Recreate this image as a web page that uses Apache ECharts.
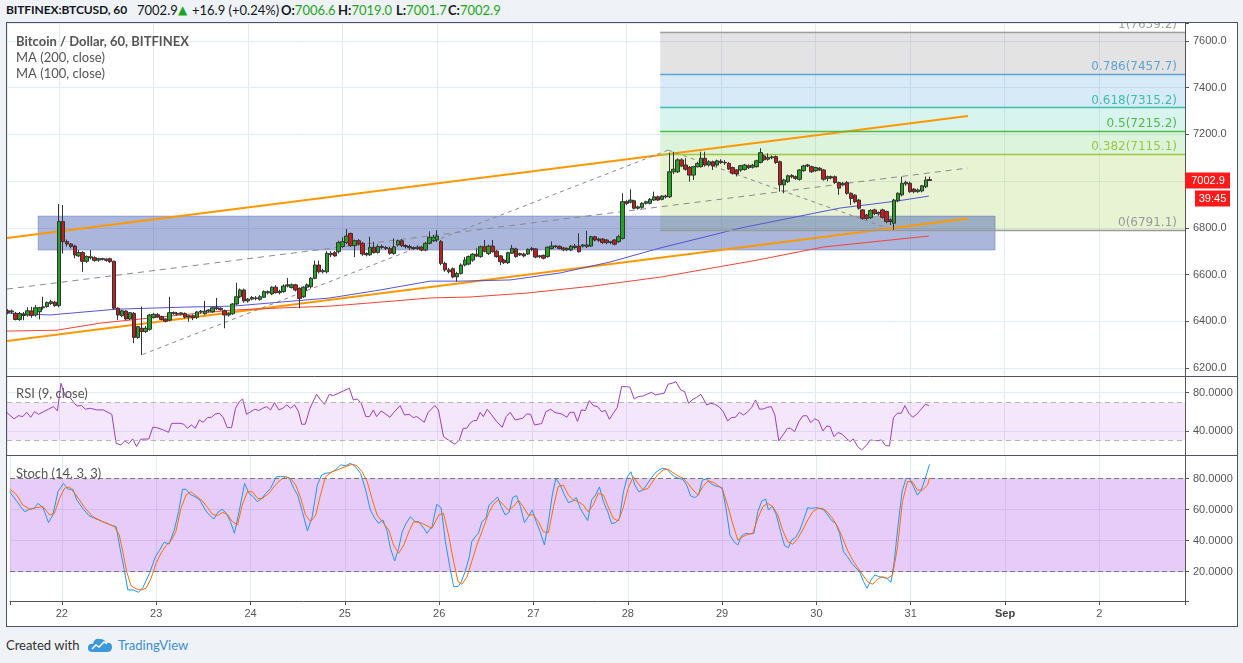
<!DOCTYPE html>
<html><head><meta charset="utf-8">
<script src="https://cdn.jsdelivr.net/npm/echarts@6/dist/echarts.min.js"></script>
<style>
html,body{margin:0;padding:0;background:#eff2f6;width:1243px;height:663px;overflow:hidden;font-family:Lato,'Noto Sans',sans-serif;}
#chart{position:absolute;left:6px;top:22px;width:1230px;height:603px;border:1px solid #50535e;background:#fff;}
.h{position:absolute;top:2px;font-size:13px;line-height:16px;color:#131722;white-space:nowrap;}
.b{font-weight:bold;}
.g{color:#1fa51f;}
.f{position:absolute;top:637px;font-size:13px;line-height:16px;white-space:nowrap;}
</style></head>
<body>
<div class="h b" style="left:6px;font-size:12px;letter-spacing:-0.1px">BITFINEX:BTCUSD, 60</div>
<div class="h" style="left:137px">7002.9</div>
<div class="h g" style="left:178px;font-family:'DejaVu Sans';font-size:12px">▲</div>
<div class="h" style="left:192px">+16.9 (+0.24%)</div>
<div class="h" style="left:281px"><span class="b">O:</span><span class="g">7006.6</span></div>
<div class="h" style="left:338px"><span class="b">H:</span><span class="g">7019.0</span></div>
<div class="h" style="left:396px"><span class="b">L:</span><span class="g">7001.7</span></div>
<div class="h" style="left:448px"><span class="b">C:</span><span class="g">7002.9</span></div>
<div id="chart"></div>
<div class="f" style="left:6px;color:#333">Created with</div>
<svg style="position:absolute;left:87px;top:637px" width="26" height="16" viewBox="0 0 26 16"><path d="M6 15 Q0 15 1 10 Q2 6 6 7 Q7 1 13 2 Q18 2 19 6 Q25 5 25 10 Q25 15 20 15 Z" fill="#3b98d9"/><polyline points="5,12 9,8 12,10 17,5 20,7" fill="none" stroke="#fff" stroke-width="1.5"/></svg>
<div class="f" style="left:118px;color:#3b8fd6">TradingView</div>
<script>
// ---------------- DATA ----------------
const firstHour = -13; // hours relative to Aug 22 00:00
// [open, close, low, high] hourly candles
const candles = [
[6445,6438,6430,6452],[6440,6444,6432,6450],[6434,6408,6404,6440],[6408,6432,6402,6440],[6430,6425,6405,6440],
[6427,6445,6420,6460],[6444,6425,6415,6462],[6427,6458,6420,6470],[6441,6458,6408,6462],[6458,6462,6450,6505],
[6463,6480,6458,6485],[6476,6484,6470,6492],[6482,6467,6462,6488],
[6467,6827,6460,6902],[6827,6741,6690,6898],[6741,6731,6720,6750],[6731,6720,6712,6735],[6722,6684,6670,6728],
[6680,6694,6676,6705],[6694,6657,6612,6700],[6657,6677,6650,6682],[6676,6672,6665,6705],[6672,6661,6655,6678],
[6662,6668,6655,6672],[6668,6666,6660,6672],[6666,6661,6655,6670],[6668,6655,6650,6672],[6657,6456,6450,6660],
[6456,6427,6406,6460],[6424,6445,6418,6450],[6444,6410,6405,6448],[6410,6437,6405,6440],[6434,6331,6306,6440],
[6331,6377,6325,6380],[6370,6356,6256,6463],[6356,6370,6350,6380],[6366,6427,6360,6432],[6417,6430,6412,6435],
[6428,6420,6415,6435],[6420,6408,6404,6424],[6410,6400,6395,6412],[6405,6437,6400,6505],[6437,6434,6428,6442],
[6434,6430,6425,6440],[6430,6436,6426,6440],[6433,6418,6412,6438],[6418,6424,6398,6428],[6424,6415,6405,6430],
[6417,6440,6410,6444],[6440,6443,6432,6448],[6432,6444,6428,6487],[6444,6448,6438,6452],[6441,6458,6436,6462],
[6458,6454,6448,6500],[6456,6450,6445,6460],[6445,6427,6370,6450],[6427,6432,6420,6438],[6432,6474,6428,6478],
[6474,6505,6470,6565],[6505,6534,6500,6540],[6534,6487,6480,6540],[6487,6495,6480,6500],[6495,6502,6490,6508],
[6500,6498,6490,6508],[6494,6505,6488,6512],[6503,6527,6500,6532],[6527,6522,6515,6532],[6517,6546,6512,6550],
[6546,6523,6518,6555],[6523,6528,6515,6535],[6527,6551,6522,6558],[6551,6556,6545,6585],[6545,6556,6540,6562],
[6556,6534,6528,6560],[6541,6498,6456,6545],[6505,6546,6500,6550],[6546,6556,6530,6562],[6548,6584,6540,6590],
[6584,6641,6580,6660],[6641,6612,6605,6660],[6612,6617,6605,6625],[6612,6691,6605,6700],[6691,6685,6675,6700],
[6694,6680,6676,6700],[6698,6737,6690,6745],[6720,6741,6715,6760],[6737,6765,6730,6795],[6776,6724,6718,6780],
[6724,6745,6675,6750],[6745,6731,6725,6752],[6734,6688,6680,6740],[6690,6685,6678,6695],[6685,6717,6680,6762],
[6717,6694,6690,6740],[6695,6720,6690,6730],[6720,6716,6710,6728],[6716,6712,6705,6722],[6712,6691,6685,6720],
[6690,6719,6685,6755],[6727,6745,6720,6750],[6745,6724,6718,6752],[6724,6720,6712,6730],[6720,6715,6705,6728],
[6715,6712,6705,6720],[6712,6717,6705,6725],[6717,6705,6700,6722],[6705,6734,6700,6740],[6734,6760,6730,6785],
[6745,6760,6740,6770],[6748,6765,6740,6790],[6741,6648,6640,6748],[6648,6620,6612,6655],[6620,6612,6605,6628],
[6625,6590,6584,6630],[6590,6605,6570,6612],[6605,6641,6600,6648],[6641,6662,6635,6675],[6645,6677,6640,6682],
[6662,6687,6655,6692],[6687,6680,6675,6712],[6677,6719,6672,6724],[6719,6700,6695,6748],[6690,6722,6684,6728],
[6722,6698,6694,6748],[6700,6677,6672,6705],[6680,6655,6641,6684],[6662,6651,6645,6668],[6651,6694,6645,6698],
[6691,6712,6688,6727],[6710,6677,6672,6715],[6684,6690,6680,6694],[6688,6680,6674,6694],[6688,6708,6684,6712],
[6708,6712,6700,6718],[6710,6675,6670,6714],[6677,6680,6670,6684],[6682,6670,6665,6686],[6677,6717,6672,6720],
[6712,6722,6708,6742],[6720,6722,6714,6726],[6721,6712,6708,6725],[6714,6706,6700,6718],[6706,6712,6700,6716],
[6705,6722,6700,6726],[6722,6716,6710,6731],[6722,6698,6694,6777],[6722,6727,6716,6730],[6720,6727,6714,6788],
[6722,6762,6718,6766],[6762,6748,6742,6766],[6752,6747,6740,6758],[6752,6737,6732,6756],[6748,6737,6730,6752],
[6738,6740,6730,6744],[6748,6730,6725,6752],[6741,6762,6736,6770],[6755,6912,6750,6948],[6912,6905,6898,6918],
[6910,6919,6905,6965],[6916,6884,6880,6920],[6884,6890,6878,6895],[6888,6905,6882,6910],[6905,6912,6900,6916],
[6905,6922,6900,6928],[6919,6933,6915,6955],[6933,6919,6915,6938],[6922,6936,6918,6940],[6936,6933,6926,6942],
[6933,7040,6928,7122],[7040,7051,7030,7126],[7040,7091,7035,7098],[7091,7065,7060,7098],[7069,7051,7045,7098],
[7059,7026,6998,7065],[7026,7062,7005,7066],[7062,7076,7058,7083],[7062,7098,7058,7126],[7098,7069,7062,7126],
[7069,7083,7062,7090],[7083,7065,7048,7088],[7069,7087,7062,7092],[7085,7080,7074,7094],[7080,7078,7070,7090],
[7076,7052,7048,7082],[7058,7034,7028,7062],[7048,7031,7020,7052],[7048,7066,7040,7070],[7050,7069,7045,7074],
[7066,7058,7052,7072],[7060,7068,7054,7074],[7062,7087,7058,7092],[7080,7122,7076,7141],[7108,7092,7086,7114],
[7094,7102,7088,7119],[7100,7104,7094,7110],[7105,7080,7074,7110],[7083,6984,6955,7088],[6984,7005,6948,7010],
[6998,7023,6992,7028],[7024,7019,7012,7030],[7019,7012,7005,7024],[7008,7048,7002,7052],[7045,7065,7040,7070],
[7065,7069,7060,7074],[7062,7040,7036,7066],[7045,7058,7040,7062],[7055,7048,7044,7060],[7048,7008,7002,7052],
[7012,7019,7000,7024],[7019,7014,7008,7024],[7019,6994,6988,7024],[6994,6970,6941,6998],[6984,6991,6978,6996],
[6994,6948,6942,7000],[6948,6926,6898,6952],[6940,6912,6905,6945],[6919,6884,6878,6924],[6877,6841,6834,6880],
[6855,6841,6834,6860],[6844,6874,6838,6880],[6877,6862,6855,6882],[6860,6866,6852,6870],[6877,6845,6840,6882],
[6870,6827,6820,6874],[6834,6827,6812,6840],[6820,6919,6791.1,6924],[6916,6948,6910,6952],[6941,6991,6935,7019],
[6988,6995,6980,7002],[6991,6955,6950,6998],[6966,6955,6948,6970],[6955,6962,6950,6968],[6958,6980,6952,6984],
[6976,7005,6970,7020],[7006.6,7002.9,7001.7,7019.0]
];
// moving averages: [hour, price]
const ma100 = [[-13.2,6435],[-2.3,6427],[0.3,6431],[14.7,6452],[32.5,6461],[44.2,6465],[56.1,6482],[68.8,6500],[81.5,6534],[94.2,6572],[101.8,6572],[114.5,6577],[127.2,6607],[139.9,6654],[152.6,6714],[162.7,6756],[172.9,6799],[185.6,6842],[198.3,6885],[206.6,6902],[212.7,6915],[220.8,6936]];
const ma200 = [[-13.2,6358],[-0.5,6362],[10.4,6392],[23.1,6414],[35.8,6435],[44.2,6448],[56.1,6457],[68.8,6465],[81.5,6482],[94.2,6500],[104.3,6504],[118.8,6521],[135.6,6551],[152.6,6589],[162.7,6619],[177.2,6662],[194,6718],[211,6748],[220.8,6765]];
// RSI (9): [hour, value]
const rsi = [[-13.3,59.5],[-11.4,52.6],[-10.3,56],[-9.2,55],[-8.2,59.5],[-7.2,54.3],[-6.2,60.2],[-5.2,57.4],[-4,60],[-2.7,62.7],[-1.4,65.4],[-0.4,60.9],[0.5,89.8],[1.6,75.9],[2.8,74.8],[4.5,66.1],[5.7,66.5],[6.7,62.7],[7.9,63.7],[9.6,62],[11.2,62],[13.4,57.4],[14.5,27.2],[15.7,25.4],[16.7,29.6],[17.7,26.8],[18.7,31.7],[19.7,23.7],[20.7,31.3],[22.8,31.7],[23.8,43.9],[24.8,43.5],[26.5,41.1],[27.8,38.6],[28.6,48],[30.7,48],[31.7,47],[32.6,42.8],[33.6,46.3],[34.6,42.8],[35.6,51.5],[36.6,49.1],[37.7,54],[38.7,54.3],[39.7,57.8],[40.7,58.5],[41.7,54],[42.7,43.5],[43.8,43.5],[44.8,63.7],[45.8,70.7],[46.6,73.4],[47.6,57.4],[48.7,60.2],[49.7,62.7],[50.7,61.3],[51.7,63.7],[52.7,65.4],[53.7,62],[54.7,69.6],[55.8,62],[56.8,63.7],[57.8,67.2],[58.8,63.7],[59.8,67.2],[60.8,60.2],[61.6,47],[62.5,47],[63.7,63.7],[65.4,78.3],[66.4,72.4],[67.4,67.9],[68.6,78.3],[69.6,76.9],[70.9,79.4],[72.2,81.8],[73.7,84.6],[74.7,72.4],[75.7,73.4],[76.7,68.9],[77.9,55],[78.8,55],[79.8,62],[80.6,55],[81.8,60.9],[83,57.4],[84,54.3],[85,59.5],[86.6,66.5],[87.7,56.7],[88.9,57.4],[89.9,54],[90.8,55],[92.7,49.1],[93.7,59.5],[95.4,66.5],[96.3,62],[97.6,34.1],[98.8,30.6],[100.5,26.1],[101.6,30.6],[102.6,42.8],[103.5,42.8],
[104.3,48],[105.2,50.8],[106,50.8],[106.9,59.5],[107.7,55],[108.7,62.7],[109.7,57.4],[111.1,49.8],[112.5,43.9],[113.5,55],[114.5,59.5],[115.8,51.5],[117.7,53.3],[118.7,57.8],[119.7,57.4],[120.7,46.3],[122.5,47.7],[123.6,60.2],[124.8,62.7],[125.9,59.2],[127.6,57.8],[128.9,54.3],[129.7,59.5],[130.7,59.5],[131.6,49.8],[132.6,62],[133.6,61.3],[134.6,71.7],[135.6,66.5],[136.7,65.4],[137.7,60.2],[138.7,61.3],[139.7,52.2],[140.7,58.5],[141.7,64.7],[142.8,86.3],[144.1,86.3],[144.9,85.6],[146,73.4],[147,75.9],[148.3,76.6],[149.2,78.3],[150.4,80.4],[151.4,77.6],[152.6,78.7],[153.6,79.4],[154.6,88.8],[155.6,89.8],[156.6,91.5],[157.8,82.8],[158.8,81.1],[159.8,68.9],[160.9,73.1],[161.9,75.2],[162.9,78.3],[164.4,67.2],[165.4,68.9],[166.4,67.9],[167.5,65.4],[168.6,60.2],[169.7,50.5],[170.7,54],[171.7,54.3],[172.7,59.5],[173.7,56.7],[174.7,59.5],[175.8,64.4],[176.8,72.4],[177.8,62.7],[178.8,63],[179.8,64.7],[180.8,65.4],[181.7,56.7],[182.7,29.6],[183.9,36.6],[184.9,42.8],[185.7,42.8],[186.7,39.3],[187.8,49.8],[188.8,55.7],[189.8,56],[190.8,48.7],[191.8,52.6],[192.8,50.8],[193.9,40],[194.9,45.2],[195.7,44.6],[196.7,34.1],[197.7,38.3],[198.8,36.6],[199.8,32.4],[200.8,28.9],[201.6,31.7],[202.7,23.7],[203.7,20.2],[204.9,24.7],[205.9,30.6],[206.9,29.9],[207.9,29.9],[208.8,30.6],[209.8,24.7],[210.8,24.4],[211.8,54],[212.8,58.5],[213.8,58.5],[214.7,66.5],[215.7,58.5],[216.7,54.3],[217.7,57.4],[218.7,62],[219.9,67.9],[220.8,66.5]];
// Stochastic %K and %D: [hour, value]
const stochK = [[-13.3,71.6],[-11.4,65.2],[-9.5,58.7],[-8.2,60.3],[-7,60.9],[-6.1,64.1],[-4.8,61.3],[-3.4,51.7],[-2.3,56.6],[-1,71.6],[0.4,77],[1.6,73.2],[2.8,73.2],[3.8,66.3],[5.3,60.9],[6.9,56.2],[8.3,54.5],[10.4,52.3],[12.9,49.7],[13.8,49.1],[14.8,35.1],[15.8,22.2],[16.8,8.2],[18.2,8.2],[19.5,6.7],[20.6,9.7],[22.3,18.9],[23.8,29.7],[24.8,33.6],[26,39],[27.3,37.9],[28.6,46.9],[29.7,58.7],[30.7,73.2],[31.6,73.2],[32.6,69.9],[33.9,68.4],[35.1,66.3],[36.5,59.8],[37.5,56.6],[38.7,54],[39.7,58.3],[40.7,60.3],[41.7,58.3],[42.9,52.3],[43.9,44.8],[45.1,58.7],[46.5,77],[47.6,70.6],[48.7,68.4],[49.7,65.2],[50.9,67.3],[51.9,70.6],[53.1,73.8],[54.6,81.3],[55.7,81.3],[56.9,81.3],[57.9,80.2],[59,73.8],[60,69.5],[61.2,58.7],[62.5,46.3],[63.7,55.5],[65,76],[66.1,82.4],[67.1,83.5],[68.4,83.9],[69.6,85.6],[70.9,88.9],[72.2,88.4],[73.4,89.9],[74.7,87.8],[76,83.5],[77.3,72.7],[78.5,59.8],[79.6,54.5],[80.6,51.2],[81.7,53.4],[82.8,45.8],[83.6,35.1],[84.7,26.9],[85.7,35.1],[86.6,45.8],[87.6,51.2],[88.7,55.5],[89.9,52.3],[90.8,52.3],[92.1,48],[92.9,44.8],[94.2,49.1],[95.4,63.5],[96.5,61.3],[97.6,39.4],[98.7,23.3],[99.7,10.4],[100.8,10.4],[101.6,13.2],[102.6,20],[103.7,29.7],
[104.3,39.4],[105.2,42.6],[106,44.8],[106.9,52.3],[107.9,54.5],[108.7,63],[109.8,65.6],[110.9,68.2],[111.8,62],[112.8,56.6],[113.8,58.3],[114.7,67.8],[115.7,69.1],[116.7,62],[117.7,51.7],[118.7,55.5],[119.7,59.8],[120.7,52.3],[121.7,45.8],[122.8,37.2],[123.8,52.3],[124.8,69.5],[125.7,80.2],[126.8,75.9],[127.9,69.5],[128.9,64.6],[129.9,65.6],[130.9,67.8],[131.9,60.9],[132.9,56.6],[133.8,53],[134.8,66.3],[135.8,69.5],[136.8,74.7],[137.8,65.2],[138.9,58.7],[139.9,51],[140.9,51.7],[141.9,54.5],[142.9,71.6],[143.9,81.3],[144.8,84.5],[145.8,75.9],[146.8,71.6],[147.8,72.7],[148.8,75.9],[149.9,80.2],[150.9,83.5],[151.9,85.6],[152.9,86.7],[153.9,86.3],[154.9,83.5],[155.9,81.3],[157,80.2],[158,79.6],[159,75.9],[160,68.9],[161,67.8],[162,69.5],[163,79.2],[164.1,79.8],[165.1,77],[166.1,75.5],[167.1,74.9],[168,74.2],[169,60.9],[170,43.7],[171,39.4],[172,37.2],[173,43.2],[174.1,44.8],[175.1,44.3],[176.1,44.8],[177.1,58.7],[178.1,65.6],[179.1,66.9],[179.8,59.8],[180.8,62.4],[181.8,56.6],[182.9,45.8],[183.9,36.8],[184.9,35.5],[185.7,40.5],[186.7,42],[187.8,46.9],[188.8,54],[189.8,61.3],[190.8,60.9],[191.8,61.3],[192.8,60.9],[193.9,59.8],[194.9,56.6],[195.9,53],[196.9,51.2],[197.9,44.8],[198.9,32.9],[199.9,29.7],[201,25.4],[202,22.6],[203,20],[204,13.6],[204.9,9.3],[205.9,14.7],[206.9,17.9],[207.9,16.8],[208.9,16.4],[209.9,15.7],[211,13.2],[211.8,26.5],[212.8,50.2],[213.8,71.6],[214.8,80.2],[215.7,80.2],[216.7,74.9],[217.7,69.5],[218.7,72.7],[219.7,80.2],[220.8,89.3]];
const stochD = [[-13.3,73.2],[-11.6,69.9],[-9.9,63],[-8.2,60.5],[-6.5,61.3],[-4.8,62],[-3.1,56.6],[-1.9,57.7],[-0.6,67.3],[0.7,73.8],[1.9,74.7],[3.6,69.5],[5.8,61.3],[7.9,55.5],[10.4,52.3],[13.4,49.1],[14.6,43.7],[15.5,32.9],[16.5,20],[17.6,11],[18.9,8.9],[20.1,8.2],[21.4,9.3],[22.7,15.7],[23.9,25],[25.2,31.9],[26.5,36.8],[27.8,40],[29,45.8],[30.3,60.9],[31.6,69.5],[32.8,71.6],[34.1,69],[35.8,65.6],[37.1,61.3],[38.3,57],[39.6,56.2],[40.9,58.3],[42.1,57],[43.4,52.3],[44.7,50.2],[45.9,63],[47.2,71.6],[48.5,71.6],[49.8,67.3],[51,67.3],[52.7,70.6],[54,74.9],[55.3,78.5],[56.9,81.3],[58.2,80.2],[59.5,75.9],[60.8,67.3],[62,56.6],[63.3,52.3],[64.6,56.6],[65.8,69.5],[67.1,81.3],[68.8,84.5],[70.5,86.1],[72.2,87.8],[73.9,89.3],[75.1,88.4],[76.4,84.5],[77.7,78.1],[78.9,67.3],[80.2,56.6],[81.5,52.3],[83.2,46.9],[84.4,37.2],[85.7,31.9],[87,37.2],[88.3,45.8],[89.5,52.3],[91.2,51.7],[92.5,50.2],[94.2,48],[95.9,56.6],[97.1,57.7],[98.4,43.7],[99.7,26.5],[100.8,13.6],[101.8,11.9],[103.1,16.8],
[104.3,26.5],[105.6,37.2],[106.9,45.8],[108.6,57.7],[109.8,63.5],[111.1,66.3],[112.4,63],[113.6,59.8],[114.9,62],[116.2,66.1],[117.4,62],[118.7,56.6],[120,56.6],[121.3,52.3],[122.5,45.8],[123.8,45.2],[125.1,62],[126.3,74.9],[127.6,75.9],[128.9,69.5],[130.1,66.3],[131.4,65.2],[132.7,63],[133.9,58.7],[135.2,63],[136.5,70.6],[137.8,69.5],[139,62],[140.3,54.5],[141.6,52.7],[142.8,60.9],[144.1,73.8],[145.4,81.3],[146.6,77],[147.9,72.7],[149.2,73.8],[150.4,78.5],[151.7,82.8],[153,85.6],[154.3,86.1],[155.5,83.9],[156.8,81.8],[158.1,80.2],[159.3,77],[160.6,72.7],[161.9,69.5],[163.1,74.9],[164.4,78.5],[165.7,77.7],[166.9,75.9],[168.2,72.7],[169.5,62],[170.8,50.2],[172,40.5],[173.3,42.6],[174.6,44.1],[175.8,44.8],[177.1,54.5],[178.4,62],[179.6,64.1],[180.9,62],[182.2,56.6],[183.4,46.9],[184.7,39.4],[186,37.7],[187.3,41.5],[188.5,46.9],[189.8,53.4],[191.1,58.7],[192.3,60.9],[193.6,60.9],[194.9,58.3],[196.1,54.5],[197.4,49.1],[198.7,41.5],[199.9,34],[201.2,27.6],[202.5,22.6],[203.8,17.9],[205,13.6],[206.3,11.9],[207.6,15.3],[208.8,16.8],[210.1,15.7],[211.4,17.9],[212.6,35.1],[213.9,65.2],[215.2,78.1],[216.4,78.1],[217.7,72.7],[219,72.7],[220.3,75.9],[220.8,80.7]];
// drawings (hour, price)
const channelUpper = [[-13.2,6756.4],[230.7,7278.9]];
const channelLower = [[-13.2,6315.4],[230.7,6839.9]];
const channelMid   = [[-13.2,6538],[230.7,7056]];
const swingUp   = [[21.2,6258],[154.6,7133]];
const swingDown = [[154.6,7133],[210.2,6799]];
const zoneHours = [-5.3, 237.6];
const zonePrices = [6705, 6850.6];
const fibStartHour = 152.6;
const fibRatios = [1, 0.786, 0.618, 0.5, 0.382, 0];
const fibPrices = [7639.2, 7457.7, 7315.2, 7215.2, 7115.1, 6791.1];
const rsiBands = [30, 70];
const stochBands = [20, 80];
const countdown = '39:45';

// ---------------- STYLE / LAYOUT ----------------
const X_MIN = -13.2, X_MAX = 285.8;
const fibLine = ['#9e9e9e','#5fa3d6','#3cbfa6','#52b948','#9cc63f','#9a9a9a'];
const fibFill = ['rgba(140,140,140,0.24)','rgba(70,160,220,0.22)','rgba(60,200,170,0.2)','rgba(80,200,80,0.2)','rgba(150,200,60,0.22)'];
const gridColor = '#e4ecf2';
const axisColor = '#555';
const axFont = 'Liberation Sans';

function fmtDay(v){
  const d = v/24;
  if (Math.abs(d - Math.round(d)) > 1e-6) return '';
  const day = 22 + Math.round(d);
  if (day <= 31) return String(day);
  return day - 31 === 1 ? '{b|Sep}' : String(day - 31);
}
function xAx(gi, show){
  return {type:'value', gridIndex:gi, min:X_MIN, max:X_MAX, minInterval:24, maxInterval:24,
    axisLine:{show:show, onZero:false, lineStyle:{color:axisColor}},
    axisTick:{show:show, length:4, lineStyle:{color:axisColor}},
    axisLabel:{show:show, formatter:fmtDay, color:'#555', fontSize:11, fontFamily:axFont, margin:7,
      rich:{b:{fontWeight:'bold', color:'#444', fontSize:11, fontFamily:axFont}}},
    splitLine:{show:true, lineStyle:{color:gridColor}}};
}
function yAx(gi, min, max, step, dec){
  return {type:'value', gridIndex:gi, position:'right', min:min, max:max, minInterval:step, maxInterval:step,
    axisLine:{show:true, onZero:false, lineStyle:{color:axisColor}},
    axisTick:{show:true, length:4, lineStyle:{color:axisColor}},
    axisLabel:{color:'#555', fontSize:11, fontFamily:axFont, margin:8,
      formatter:v => (Math.abs(v/step - Math.round(v/step)) < 1e-6) ? v.toFixed(dec) : ''},
    splitLine:{show:true, lineStyle:{color:gridColor}}};
}

const candleData = candles.map((c,i) => [firstHour + i, c[0], c[1], c[2], c[3]]);

const fibAreas = [];
for (let i = 0; i < fibPrices.length - 1; i++) {
  fibAreas.push([{xAxis:fibStartHour, yAxis:fibPrices[i], itemStyle:{color:fibFill[i]}}, {xAxis:X_MAX, yAxis:fibPrices[i+1]}]);
}
const fibLines = fibPrices.map((p,i) => [
  {xAxis:fibStartHour, yAxis:p, lineStyle:{color:fibLine[i], width:1.3, type:'solid'},
   label:{formatter: fibRatios[i] + '(' + p.toFixed(1) + ')', color:fibLine[i]}},
  {xAxis:X_MAX, yAxis:p}]);

const chart = echarts.init(document.getElementById('chart'));
const legendTexts = [
  {id:'t1', type:'text', left:9, top:12, z:50, style:{text:'Bitcoin / Dollar, 60, BITFINEX', fontFamily:'Lato', fontSize:13, fontWeight:'bold', fill:'#555'}},
  {id:'t2', type:'text', left:9, top:28, z:50, style:{text:'MA (200, close)', fontFamily:'Lato', fontSize:13, fill:'#555'}},
  {id:'t3', type:'text', left:9, top:44, z:50, style:{text:'MA (100, close)', fontFamily:'Lato', fontSize:13, fill:'#555'}},
  {id:'t4', type:'text', left:9, top:364, z:50, style:{text:'RSI (9, close)', fontFamily:'Lato', fontSize:13, fill:'#555'}},
  {id:'t5', type:'text', left:9, top:444, z:50, style:{text:'Stoch (14, 3, 3)', fontFamily:'Lato', fontSize:13, fill:'#555'}},
  {id:'s1', type:'line', z:60, shape:{x1:0, y1:353.5, x2:1230, y2:353.5}, style:{stroke:'#50535e', lineWidth:1}},
  {id:'s2', type:'line', z:60, shape:{x1:0, y1:432.5, x2:1230, y2:432.5}, style:{stroke:'#50535e', lineWidth:1}}
];

chart.setOption({
  animation:false,
  backgroundColor:'#fff',
  grid:[
    {left:0, top:0, width:1178, height:353},
    {left:0, top:353, width:1178, height:79},
    {left:0, top:432, width:1178, height:146}
  ],
  xAxis:[xAx(0,false), xAx(1,false), xAx(2,true)],
  yAxis:[yAx(0,6165.8,7677.1,200,1), yAx(1,14.9,97.4,40,4), yAx(2,1.1,95.3,20,4)],
  graphic: legendTexts,
  series:[
    {type:'line', name:'fib', xAxisIndex:0, yAxisIndex:0, z:1, data:[], silent:true,
      markArea:{silent:true, data:fibAreas},
      markLine:{silent:true, symbol:['none','none'], data:fibLines, lineStyle:{type:'solid'},
        label:{show:true, position:'insideEndTop', distance:[8,1], fontFamily:'DejaVu Sans', fontSize:12}}},
    {type:'line', name:'chanU', z:2, data:channelUpper, showSymbol:false, silent:true, lineStyle:{color:'#ff9800', width:2}},
    {type:'line', name:'chanL', z:2, data:channelLower, showSymbol:false, silent:true, lineStyle:{color:'#ff9800', width:2}},
    {type:'line', name:'zone', z:3, data:[], silent:true,
      markArea:{silent:true, itemStyle:{color:'rgba(42,72,168,0.4)', borderColor:'rgba(42,72,168,0.3)', borderWidth:1},
        data:[[{xAxis:zoneHours[0], yAxis:zonePrices[1]}, {xAxis:zoneHours[1], yAxis:zonePrices[0]}]]}},
    {type:'line', name:'mid', z:4, data:channelMid, showSymbol:false, silent:true, lineStyle:{color:'#8a8a8a', width:1, type:[6,5]}},
    {type:'line', name:'swU', z:4, data:swingUp, showSymbol:false, silent:true, lineStyle:{color:'#8a8a8a', width:1, type:[4,4]}},
    {type:'line', name:'swD', z:4, data:swingDown, showSymbol:false, silent:true, lineStyle:{color:'#8a8a8a', width:1, type:[4,4]}},
    {type:'line', name:'MA200', z:4, data:ma200, showSymbol:false, silent:true, lineStyle:{color:'#f44336', width:1}},
    {type:'line', name:'MA100', z:4, data:ma100, showSymbol:false, silent:true, lineStyle:{color:'#5555d4', width:1}},
    {type:'candlestick', name:'BTCUSD', z:5, data:candleData, encode:{x:0, y:[1,2,3,4]}, barWidth:4, silent:true,
      itemStyle:{color:'#22a322', color0:'#c41d1d', borderColor:'#333', borderColor0:'#333', borderWidth:1}},
    // RSI pane
    {type:'line', name:'rsiBand', xAxisIndex:1, yAxisIndex:1, z:1, data:[], silent:true,
      markArea:{silent:true, itemStyle:{color:'rgba(155,40,230,0.11)'}, data:[[{xAxis:X_MIN, yAxis:rsiBands[1]}, {xAxis:X_MAX, yAxis:rsiBands[0]}]]},
      markLine:{silent:true, symbol:['none','none'], label:{show:false}, lineStyle:{color:'#b5b5b5', type:[5,4], width:1},
        data:[[{xAxis:X_MIN, yAxis:rsiBands[1]},{xAxis:X_MAX, yAxis:rsiBands[1]}],[{xAxis:X_MIN, yAxis:rsiBands[0]},{xAxis:X_MAX, yAxis:rsiBands[0]}]]}},
    {type:'line', name:'RSI', xAxisIndex:1, yAxisIndex:1, z:3, data:rsi, showSymbol:false, silent:true, lineStyle:{color:'#9c3fbd', width:1}},
    // Stoch pane
    {type:'line', name:'stBand', xAxisIndex:2, yAxisIndex:2, z:1, data:[], silent:true,
      markArea:{silent:true, itemStyle:{color:'rgba(155,40,230,0.24)'}, data:[[{xAxis:X_MIN, yAxis:stochBands[1]}, {xAxis:X_MAX, yAxis:stochBands[0]}]]},
      markLine:{silent:true, symbol:['none','none'], label:{show:false}, lineStyle:{color:'#777', type:[5,3], width:1},
        data:[[{xAxis:X_MIN, yAxis:stochBands[1]},{xAxis:X_MAX, yAxis:stochBands[1]}],[{xAxis:X_MIN, yAxis:stochBands[0]},{xAxis:X_MAX, yAxis:stochBands[0]}]]}},
    {type:'line', name:'%K', xAxisIndex:2, yAxisIndex:2, z:3, data:stochK, showSymbol:false, silent:true, lineStyle:{color:'#2196f3', width:1}},
    {type:'line', name:'%D', xAxisIndex:2, yAxisIndex:2, z:4, data:stochD, showSymbol:false, silent:true, lineStyle:{color:'#ff6d00', width:1}}
  ]
});

// last price label on the price axis
const lastClose = candles[candles.length - 1][1];
const yLast = chart.convertToPixel({yAxisIndex:0}, lastClose);
chart.setOption({graphic: legendTexts.concat([
  {id:'pl', type:'rect', z:70, shape:{x:1178, y:yLast - 8, width:45, height:16}, style:{fill:'#ff1a1a'}},
  {id:'pt', type:'text', z:71, x:1201, y:yLast, style:{text:lastClose.toFixed(1), fill:'#fff', fontFamily:axFont, fontSize:11, align:'center', verticalAlign:'middle'}},
  {id:'cl', type:'rect', z:70, shape:{x:1188, y:yLast + 10, width:35, height:16}, style:{fill:'#ff1a1a'}},
  {id:'ct', type:'text', z:71, x:1205.5, y:yLast + 18, style:{text:countdown, fill:'#fff', fontFamily:axFont, fontSize:11, align:'center', verticalAlign:'middle'}}
])});
</script>
</body></html>
